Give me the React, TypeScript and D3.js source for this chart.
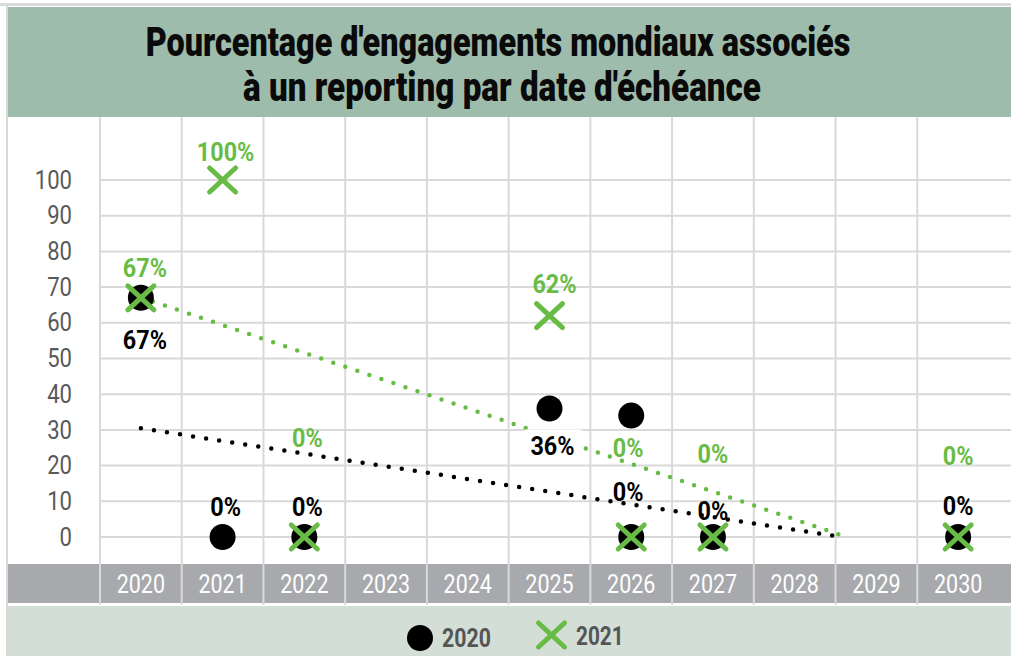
import { useLayoutEffect, useRef } from 'react';
import * as d3 from 'd3';

// categories and series
const years = ['2020', '2021', '2022', '2023', '2024', '2025', '2026', '2027', '2028', '2029', '2030'];
const values2020 = [67, 0, 0, null, null, 36, 0, 0, null, null, 0];
const values2021 = [67, 100, 0, null, null, 62, 0, 0, null, null, 0];
// stray 2020 marker without a label (not part of the trend)
const extraYears2020 = ['2026'];
const extraValues2020 = [34];
const yTicks = [0, 10, 20, 30, 40, 50, 60, 70, 80, 90, 100];
const titleLines = ["Pourcentage d'engagements mondiaux associés", "à un reporting par date d'échéance"];
const legendLabels = ['2020', '2021'];

// label placement (pixel offsets from the point), hand tuned
const dy2020 = [42, -30, -30, 0, 0, 38, -45, -26, 0, 0, -31];
const dx2020 = [4, 3, 3, 0, 0, 3, -3, 0, 0, 0, 0];
const dy2021 = [-30, -28, -99, 0, 0, -32, -89, -83, 0, 0, -81];
const dx2021 = [4, 3, 3, 0, 0, 5, -3, 0, 0, 0, 0];

const W = 1011;
const H = 656;
const GREEN = '#68BC45';
const FONT = 'Roboto, "DejaVu Sans", sans-serif';

const x = d3.scaleBand<string>().domain(years).range([100, 999]);
const y = d3.scaleLinear().domain([0, 100]).range([537, 180]);
const cx = (yr: string) => (x(yr) as number) + x.bandwidth() / 2;
const xIdx = d3.scaleLinear().domain([0, years.length - 1]).range([cx(years[0]), cx(years[years.length - 1])]);

// linear trendline on category index, cut where it reaches 0
function trend(values: (number | null)[]) {
  const pts = values.map((v, i) => [i, v] as [number, number | null]).filter(p => p[1] != null) as [number, number][];
  const mx = d3.mean(pts, p => p[0]) as number;
  const my = d3.mean(pts, p => p[1]) as number;
  const sxy = d3.sum(pts, p => (p[0] - mx) * (p[1] - my));
  const sxx = d3.sum(pts, p => (p[0] - mx) ** 2);
  const m = sxy / sxx;
  const b = my - m * mx;
  const iEnd = Math.min(years.length - 1, -b / m);
  return d3.line<number>().x(i => xIdx(i)).y(i => y(Math.max(0, m * i + b)))([0, iEnd]) as string;
}

function T({ x, y, sx = 1, size, fill, weight = 400, anchor = 'middle', children }: any) {
  return (
    <text
      transform={`translate(${x},${y}) scale(${sx},1)`}
      textAnchor={anchor}
      dominantBaseline="central"
      fontFamily={FONT}
      fontSize={size}
      fontWeight={weight}
      fill={fill}
    >
      {children}
    </text>
  );
}

// title line squeezed horizontally to a target width
function FitText({ x, y, width, children }: any) {
  const ref = useRef<SVGTextElement>(null);
  useLayoutEffect(() => {
    const el = ref.current;
    if (!el) return;
    const w = el.getComputedTextLength();
    const s = w > 0 ? width / w : 1;
    el.setAttribute('transform', `translate(${x},${y}) scale(${s},1)`);
  }, [x, y, width]);
  return (
    <text
      ref={ref}
      transform={`translate(${x},${y})`}
      textAnchor="middle"
      fontFamily={FONT}
      fontWeight={900}
      fontSize={40}
      fill="#0a0a0a"
    >
      {children}
    </text>
  );
}

function Cross({ x, y }: { x: number; y: number }) {
  return (
    <g transform={`translate(${x},${y})`} stroke={GREEN} strokeWidth={5} strokeLinecap="round">
      <line x1={-13} y1={-12} x2={13} y2={12} />
      <line x1={-13} y1={12} x2={13} y2={-12} />
    </g>
  );
}

export default function App() {
  const bw = x.bandwidth();
  const vLines = d3.range(years.length).map(i => 100 + i * bw);

  return (
    <svg width={W} height={H} style={{ position: 'absolute', left: 0, top: 0, display: 'block', background: '#fff' }}>
      {/* frame */}
      <rect x={0} y={3} width={W} height={3} fill="#DADADA" />
      <rect x={6} y={3} width={2} height={H} fill="#DADADA" />
      {/* title band */}
      <rect x={8} y={7} width={W - 8} height={110} fill="#9EBCAB" />
      <FitText x={498} y={56} width={705}>{titleLines[0]}</FitText>
      <FitText x={502} y={101} width={518}>{titleLines[1]}</FitText>

      {/* axis band and legend band */}
      <rect x={8} y={564} width={W - 8} height={39} fill="#A8A9AC" />
      <rect x={8} y={606} width={W - 8} height={H - 606} fill="#D3DED6" />

      {/* grid */}
      {yTicks.map(t => (
        <line key={t} x1={100} x2={W} y1={y(t)} y2={y(t)} stroke="#D9D9D9" strokeWidth={2} />
      ))}
      {vLines.map((vx, i) => (
        <line key={i} x1={vx} x2={vx} y1={117} y2={605} stroke="#D9D9D9" strokeWidth={2} />
      ))}

      {/* y tick labels */}
      {yTicks.map(t => (
        <T key={t} x={72} y={y(t)} sx={0.85} size={26} fill="#595959" anchor="end">
          {t}
        </T>
      ))}
      {/* year labels */}
      {years.map(yr => (
        <T key={yr} x={cx(yr)} y={584} sx={0.86} size={25} fill="#fff">
          {yr}
        </T>
      ))}

      {/* trendlines */}
      <path d={trend(values2021)} fill="none" stroke={GREEN} strokeWidth={4.5} strokeLinecap="round" strokeDasharray="0 12.7" />
      <path d={trend(values2020)} fill="none" stroke="#000" strokeWidth={4.5} strokeLinecap="round" strokeDasharray="0 13.2" />

      {/* markers */}
      {values2020.map((v, i) =>
        v == null ? null : <circle key={i} cx={cx(years[i])} cy={y(v)} r={13} fill="#000" />
      )}
      {extraValues2020.map((v, i) => (
        <circle key={'e' + i} cx={cx(extraYears2020[i])} cy={y(v)} r={13} fill="#000" />
      ))}
      {values2021.map((v, i) => (v == null ? null : <Cross key={i} x={cx(years[i])} y={y(v)} />))}

      {/* data labels */}
      {values2020.map((v, i) => {
        if (v == null) return null;
        const lx = cx(years[i]) + dx2020[i];
        const ly = y(v) + dy2020[i];
        return (
          <g key={i}>
            {v === 36 && <rect x={lx - 28} y={ly - 17} width={57} height={34} fill="#fff" />}
            <T x={lx} y={ly} sx={0.9} size={26} weight={700} fill="#000">
              {v}%
            </T>
          </g>
        );
      })}
      {values2021.map((v, i) =>
        v == null ? null : (
          <T key={i} x={cx(years[i]) + dx2021[i]} y={y(v) + dy2021[i]} sx={0.9} size={26} weight={700} fill={GREEN}>
            {v}%
          </T>
        )
      )}

      {/* legend */}
      <circle cx={420} cy={638} r={13} fill="#000" />
      <T x={442} y={638} sx={0.82} size={26} weight={700} fill="#555" anchor="start">
        {legendLabels[0]}
      </T>
      <Cross x={551.5} y={635} />
      <T x={576} y={636} sx={0.8} size={26} weight={700} fill="#555" anchor="start">
        {legendLabels[1]}
      </T>
    </svg>
  );
}
